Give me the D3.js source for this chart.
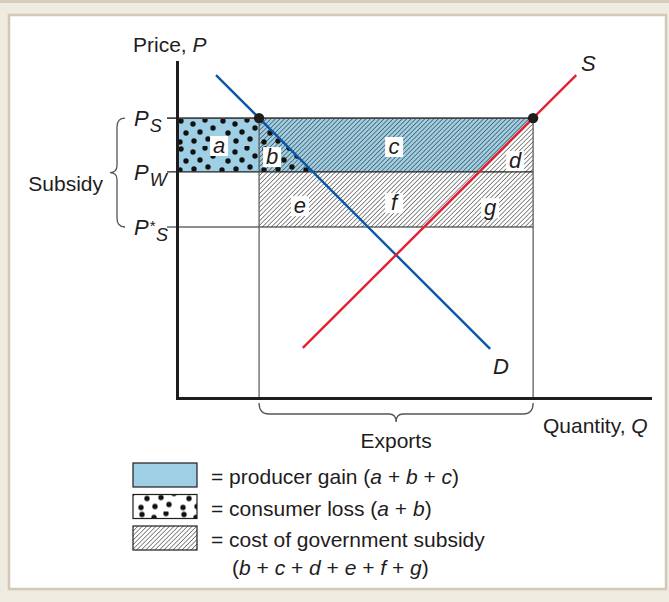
<!DOCTYPE html>
<html>
<head>
<meta charset="utf-8">
<script src="https://cdn.jsdelivr.net/npm/d3@7"></script>
<style>
  body { margin: 0; background: #efebe1; }
  svg { display: block; font-family: "Liberation Sans", Arial, Helvetica, sans-serif; }
</style>
</head>
<body>
<svg id="chart"></svg>
<script>
var width = 669,
    height = 602;

// price levels (chart units, 0-100)
var priceNames = ['S', 'W', 'S*'];
var priceValues = [83.3, 67.3, 50.9];   // Ps, Pw, Ps*

// demand and supply lines, [Q, P]
var demandQ = [8.25, 66.2],
    demandP = [96.1, 14.6];
var supplyQ = [26.6, 84.4],
    supplyP = [14.9, 96.1];

// area letters and where they sit
var areaLetters = ['a', 'b', 'c', 'd', 'e', 'f', 'g'];
var areaQ = [8.9, 20.1, 45.9, 71.5, 26.0, 45.9, 66.2];
var areaP = [75.0, 71.7, 74.7, 70.5, 57.1, 58.0, 56.5];

var legendLabels = [
  '= producer gain (*a* + *b* + *c*)',
  '= consumer loss (*a* + *b*)',
  '= cost of government subsidy'
];
var legendExtra = '(*b* + *c* + *d* + *e* + *f* + *g*)';

var x = d3.scaleLinear().domain([0, 100]).range([177, 650]),
    y = d3.scaleLinear().domain([0, 100]).range([398, 62]);

var blue = '#9fcfe4',
    ink = '#1f1c1d';

function qAt(qs, ps, p) {
  return qs[0] + (p - ps[0]) * (qs[1] - qs[0]) / (ps[1] - ps[0]);
}

var Ps = priceValues[0], Pw = priceValues[1], Pst = priceValues[2];
var qDs = qAt(demandQ, demandP, Ps),
    qDw = qAt(demandQ, demandP, Pw),
    qSs = qAt(supplyQ, supplyP, Ps),
    qSw = qAt(supplyQ, supplyP, Pw);

var svg = d3.select('#chart')
  .attr('width', width)
  .attr('height', height);

// frame
svg.append('rect').attr('x', 0).attr('y', 0).attr('width', width).attr('height', 3).attr('fill', '#d6cdbd');
svg.append('rect')
  .attr('x', 9).attr('y', 15).attr('width', 657).attr('height', 574)
  .attr('fill', '#fff').attr('stroke', '#d2c8b6').attr('stroke-width', 2.5);

var defs = svg.append('defs');
defs.append('pattern')
  .attr('id', 'hatch')
  .attr('patternUnits', 'userSpaceOnUse')
  .attr('width', 3.2).attr('height', 3.2)
  .attr('patternTransform', 'rotate(45)')
  .append('line')
  .attr('x1', 0).attr('y1', 0).attr('x2', 0).attr('y2', 3.2)
  .attr('stroke', '#222').attr('stroke-width', 1.05);

// dot texture for consumer loss
var dotSpots = [[4, 3], [16, 6], [28, 2], [36, 10], [9, 15], [23, 14], [31, 21], [3, 24], [17, 23]];
function dotPattern(id, ox, oy, bg) {
  var p = defs.append('pattern')
    .attr('id', id)
    .attr('patternUnits', 'userSpaceOnUse')
    .attr('x', ox).attr('y', oy)
    .attr('width', 42).attr('height', 28);
  if (bg) p.append('rect').attr('width', 42).attr('height', 28).attr('fill', bg);
  dotSpots.forEach(function(d) {
    p.append('circle').attr('cx', d[0]).attr('cy', d[1]).attr('r', 2.7).attr('fill', '#111');
  });
}
dotPattern('dots', 177, 118, null);
dotPattern('dots2', 131, 493, '#fff');

var line = d3.line().x(function(d) { return x(d[0]); }).y(function(d) { return y(d[1]); });

// producer gain (a + b + c)
svg.append('path')
  .attr('d', line([[0, Ps], [qSs, Ps], [qSw, Pw], [0, Pw]]) + 'Z')
  .attr('fill', blue);

// subsidy cost (b..g)
svg.append('path')
  .attr('d', line([[qDs, Ps], [qSs, Ps], [qSs, Pst], [qDs, Pst]]) + 'Z')
  .attr('fill', 'url(#hatch)');

// consumer loss (a + b)
svg.append('path')
  .attr('d', line([[0, Ps], [qDs, Ps], [qDw, Pw], [0, Pw]]) + 'Z')
  .attr('fill', 'url(#dots)');

// price lines
svg.append('g').selectAll('line')
  .data(priceValues)
  .enter().append('line')
  .attr('x1', x(0) - 10).attr('x2', x(qSs))
  .attr('y1', function(d) { return y(d); })
  .attr('y2', function(d) { return y(d); })
  .attr('stroke', function(d, i) { return i === 0 ? '#444' : ink; })
  .attr('stroke-width', function(d, i) { return i === 0 ? 1.8 : 1.2; });

// vertical lines at the quantities
svg.append('g').selectAll('line')
  .data([qDs, qSs])
  .enter().append('line')
  .attr('x1', function(d) { return x(d); })
  .attr('x2', function(d) { return x(d); })
  .attr('y1', y(Ps)).attr('y2', y(0))
  .attr('stroke', '#555').attr('stroke-width', 1.2);

// curves
svg.append('path')
  .attr('d', line(demandQ.map(function(q, i) { return [q, demandP[i]]; })))
  .attr('stroke', '#0b57a6').attr('stroke-width', 2.4).attr('fill', 'none');
svg.append('path')
  .attr('d', line(supplyQ.map(function(q, i) { return [q, supplyP[i]]; })))
  .attr('stroke', '#e61f2f').attr('stroke-width', 2.4).attr('fill', 'none');

svg.selectAll('.pt')
  .data([qDs, qSs])
  .enter().append('circle')
  .attr('cx', function(d) { return x(d); })
  .attr('cy', y(Ps))
  .attr('r', 5.2)
  .attr('fill', ink);

// axes
svg.append('g')
  .attr('transform', 'translate(0,' + y(0) + ')')
  .call(d3.axisBottom(x).ticks(0).tickSizeOuter(0));
svg.append('g')
  .attr('transform', 'translate(' + x(0) + ',0)')
  .call(d3.axisLeft(y).ticks(0).tickSizeOuter(0));
svg.selectAll('.domain')
  .attr('stroke', ink).attr('stroke-width', 3).attr('stroke-linecap', 'square');

// area letters with white boxes
var labels = svg.append('g').selectAll('g')
  .data(areaLetters)
  .enter().append('g')
  .attr('transform', function(d, i) { return 'translate(' + x(areaQ[i]) + ',' + y(areaP[i]) + ')'; });
labels.append('rect')
  .attr('x', -9).attr('y', -10).attr('width', 18).attr('height', 20)
  .attr('fill', '#fff');
labels.append('text')
  .attr('text-anchor', 'middle')
  .attr('y', 7)
  .attr('font-size', 22)
  .attr('font-style', 'italic')
  .attr('fill', ink)
  .text(function(d) { return d; });

// text helper: *x* is italic
function richText(sel, str) {
  str.split('*').forEach(function(part, i) {
    if (!part) return;
    sel.append('tspan')
      .attr('font-style', i % 2 ? 'italic' : null)
      .text(part);
  });
  return sel;
}

var fs = 21;

richText(svg.append('text').attr('x', 133).attr('y', 52).attr('font-size', fs).attr('fill', ink), 'Price, *P*');
richText(svg.append('text').attr('x', 543).attr('y', 433).attr('font-size', fs).attr('fill', ink), 'Quantity, *Q*');
svg.append('text').attr('x', (x(qDs) + x(qSs)) / 2).attr('y', 448).attr('text-anchor', 'middle')
  .attr('font-size', fs).attr('fill', ink).text('Exports');
svg.append('text').attr('x', 103).attr('y', 191).attr('text-anchor', 'end')
  .attr('font-size', fs).attr('fill', ink).text('Subsidy');
svg.append('text').attr('x', 581).attr('y', 71).attr('font-size', fs + 1).attr('font-style', 'italic')
  .attr('fill', ink).text('S');
svg.append('text').attr('x', 493).attr('y', 374).attr('font-size', fs + 1).attr('font-style', 'italic')
  .attr('fill', ink).text('D');

// price labels: P with subscript (and a raised star for Ps*)
priceValues.forEach(function(p, i) {
  var t = svg.append('text')
    .attr('x', 134).attr('y', y(p) + 8)
    .attr('font-size', fs + 1).attr('font-style', 'italic').attr('fill', ink);
  t.append('tspan').text('P');
  var starred = priceNames[i].indexOf('*') >= 0;
  if (starred) {
    t.append('tspan').attr('dy', -4).attr('dx', 1).attr('font-size', 15).attr('font-style', 'normal').text('*');
    t.append('tspan').attr('dy', 10).attr('dx', 0.5).attr('font-size', 18).text(priceNames[i].replace('*', ''));
  } else {
    t.append('tspan').attr('dy', 6).attr('dx', 1).attr('font-size', 18).text(priceNames[i]);
  }
});

// braces
var bx1 = x(qDs), bx2 = x(qSs), bm = (bx1 + bx2) / 2, by = y(0) + 5;
svg.append('path')
  .attr('d', 'M' + bx1 + ',' + by +
    'Q' + bx1 + ',' + (by + 11) + ' ' + (bx1 + 10) + ',' + (by + 11) +
    'L' + (bm - 7) + ',' + (by + 11) +
    'Q' + bm + ',' + (by + 11) + ' ' + bm + ',' + (by + 19) +
    'Q' + bm + ',' + (by + 11) + ' ' + (bm + 7) + ',' + (by + 11) +
    'L' + (bx2 - 10) + ',' + (by + 11) +
    'Q' + bx2 + ',' + (by + 11) + ' ' + bx2 + ',' + by)
  .attr('fill', 'none').attr('stroke', '#555').attr('stroke-width', 1.3);

var ly1 = y(Ps), ly2 = y(Pst), lm = (ly1 + ly2) / 2, lx = x(0) - 52;
svg.append('path')
  .attr('d', 'M' + lx + ',' + ly1 +
    'Q' + (lx - 8) + ',' + ly1 + ' ' + (lx - 8) + ',' + (ly1 + 9) +
    'L' + (lx - 8) + ',' + (lm - 7) +
    'Q' + (lx - 8) + ',' + lm + ' ' + (lx - 15) + ',' + lm +
    'Q' + (lx - 8) + ',' + lm + ' ' + (lx - 8) + ',' + (lm + 7) +
    'L' + (lx - 8) + ',' + (ly2 - 9) +
    'Q' + (lx - 8) + ',' + ly2 + ' ' + lx + ',' + ly2)
  .attr('fill', 'none').attr('stroke', '#555').attr('stroke-width', 1.3);

// legend
var swFills = [blue, 'url(#dots2)', 'url(#hatch)'];
var leg = svg.append('g').selectAll('g')
  .data(legendLabels)
  .enter().append('g')
  .attr('transform', function(d, i) { return 'translate(133,' + (463 + i * 31.5) + ')'; });
leg.append('rect')
  .attr('width', 64).attr('height', 24)
  .attr('fill', function(d, i) { return swFills[i]; })
  .attr('stroke', ink).attr('stroke-width', 1.2);
leg.each(function(d) {
  richText(d3.select(this).append('text')
    .attr('x', 78).attr('y', 21).attr('font-size', fs).attr('fill', ink), d);
});
richText(svg.append('text').attr('x', 232).attr('y', 575).attr('font-size', fs).attr('fill', ink), legendExtra);
</script>
</body>
</html>
